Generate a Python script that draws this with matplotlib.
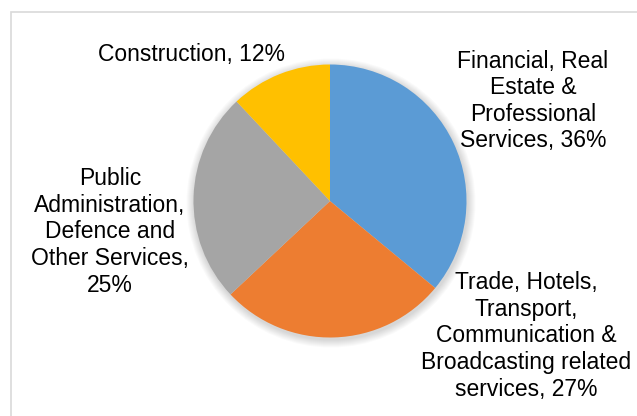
import matplotlib.pyplot as plt
from matplotlib.patches import Circle, Rectangle

sectors = ['Financial, Real\nEstate &\nProfessional\nServices',
           'Trade, Hotels,\nTransport,\nCommunication &\nBroadcasting related\nservices',
           'Public\nAdministration,\nDefence and\nOther Services,\n',
           'Construction']
shares = [36, 27, 25, 12]
colors = ['#5B9BD5', '#ED7D31', '#A5A5A5', '#FFC000']

W, H = 637, 416
fig = plt.figure(figsize=(W / 100, H / 100), dpi=100)
ax = fig.add_axes([0, 0, 1, 1])

plt.rcParams['font.family'] = ['Liberation Sans', 'DejaVu Sans']

cx, cy, r = 330, H - 201, 136.5

# soft shadow under the pie
for k in range(8):
    ax.add_patch(Circle((cx + 1, cy - 2), r + 1 + k, color='black',
                        alpha=0.018, linewidth=0, zorder=1))

ax.pie(shares, colors=colors, startangle=90, counterclock=False,
       center=(cx, cy), radius=r, frame=True,
       wedgeprops=dict(linewidth=0, zorder=2))
ax.set_xlim(0, W)
ax.set_ylim(0, H)
ax.set_aspect('equal')
ax.axis('off')

# chart area frame
ax.add_patch(Rectangle((11, -5), W, H - 12 + 5, fill=False,
                       edgecolor='#D9D9D9', linewidth=1.2))

label_pos = [(533, 101), (526, 336), (110, 232), (192, 54)]
for name, val, (x, y) in zip(sectors, shares, label_pos):
    if name.endswith('\n'):
        txt = f'{name}{val}%'
    else:
        txt = f'{name}, {val}%'
    ax.text(x, H - y, txt, ha='center', va='center', fontsize=16.5,
            linespacing=1.2, color='black', zorder=3)

fig.savefig('out.png', dpi=100)
